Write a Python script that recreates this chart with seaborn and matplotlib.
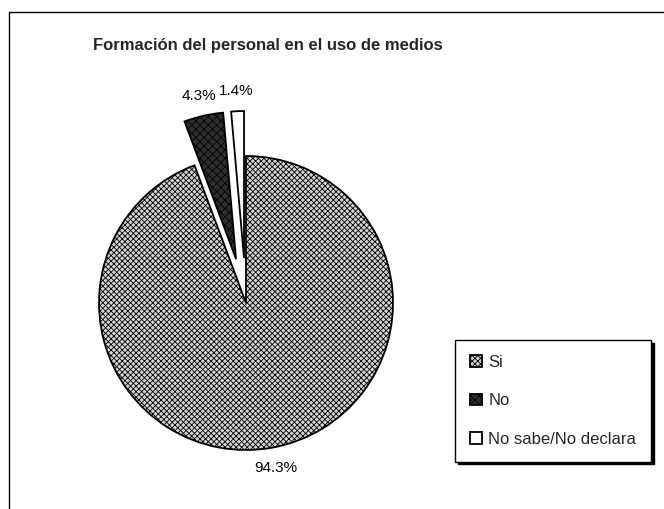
import matplotlib
matplotlib.use("Agg")
import matplotlib.pyplot as plt
import seaborn as sns
from matplotlib.lines import Line2D

# DATA
categories = ["Si", "No", "No sabe/No declara"]
shares = [94.3, 4.3, 1.4]
title = "Formación del personal en el uso de medios"

sns.set_theme(style="white")
plt.rcParams["font.family"] = ["Liberation Sans", "DejaVu Sans"]
plt.rcParams["hatch.linewidth"] = 0.6

W, H = 664, 509
fig = plt.figure(figsize=(W / 100, H / 100), dpi=100)
ax = fig.add_axes([0, 0, 1, 1])

face_colors = ["#d4d4d4", "#2e2e2e", "white"]
hatches = ["xxxxxx", "xxxx", ""]

wedges, texts, autotexts = ax.pie(
    shares,
    explode=[0, 45, 45],
    center=(246, H - 303),
    radius=147,
    startangle=90,
    counterclock=False,
    autopct="%1.1f%%",
    pctdistance=1.14,
    colors=face_colors,
    wedgeprops=dict(edgecolor="black", linewidth=1.3),
    textprops=dict(fontsize=11, color="black"),
)
for w, h in zip(wedges, hatches):
    w.set_hatch(h)

ax.set_xlim(0, W)
ax.set_ylim(0, H)
ax.set_aspect("auto")
ax.axis("off")

ax.text(268, H - 45, title, ha="center", va="center",
        fontsize=12, fontweight="bold")

# outer chart frame (left and top edges)
fig.add_artist(Line2D([9 / W, 9 / W], [0, 1 - 12 / H], color="black", lw=1))
fig.add_artist(Line2D([9 / W, 1], [1 - 12 / H, 1 - 12 / H], color="black", lw=1))

leg = ax.legend(
    wedges, categories,
    loc="upper left",
    bbox_to_anchor=(455 / W, 1 - 340 / H),
    bbox_transform=fig.transFigure,
    frameon=True, fancybox=False,
    shadow={"color": "black", "alpha": 1},
    fontsize=12,
    handlelength=0.7, handleheight=0.7, handletextpad=0.4,
    labelspacing=1.4,
    borderpad=0.9, borderaxespad=0,
)
leg.get_frame().set_edgecolor("black")
leg.get_frame().set_linewidth(1)

fig.savefig("out.png", dpi=100)
